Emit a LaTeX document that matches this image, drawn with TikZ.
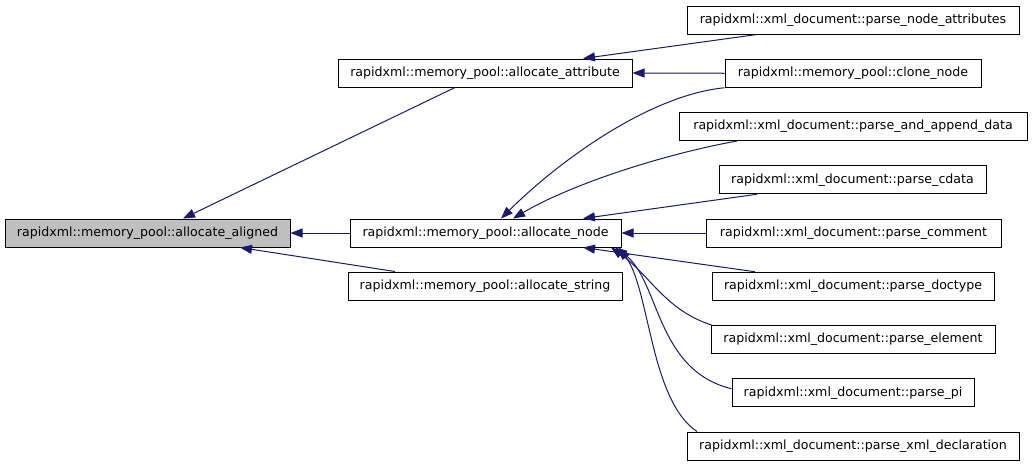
\documentclass[tikz,border=0pt]{standalone}
\usepackage{fontspec}
\setmainfont{DejaVu Sans}
\usetikzlibrary{arrows.meta,calc}
\definecolor{edgeblue}{HTML}{191970}
\definecolor{boxgray}{HTML}{BFBFBF}
\tikzset{
  fn/.style={draw=black, line width=1pt, fill=white, minimum height=28pt, inner sep=0pt,
    font=\fontsize{12.6pt}{14pt}\selectfont, anchor=center},
  cur/.style={fn, fill=boxgray},
  edge/.style={draw=edgeblue, line width=1pt, -{Triangle[length=12pt,width=9pt]}}
}
\begin{document}
\begin{tikzpicture}[x=1pt,y=-1pt]
\useasboundingbox (0,0) rectangle (1032,467);
\node[cur, minimum width=285pt] (al) at (147.5,233) {rapidxml::memory\_pool::allocate\_aligned};
\node[fn, minimum width=294pt] (at) at (485,73) {rapidxml::memory\_pool::allocate\_attribute};
\node[fn, minimum width=271pt] (an) at (485.5,233) {rapidxml::memory\_pool::allocate\_node};
\node[fn, minimum width=274pt] (as) at (485,286) {rapidxml::memory\_pool::allocate\_string};
\node[fn, minimum width=332pt] (pna) at (853,20) {rapidxml::xml\_document::parse\_node\_attributes};
\node[fn, minimum width=256pt] (cl) at (853,73.25) {rapidxml::memory\_pool::clone\_node};
\node[fn, minimum width=348pt] (pad) at (853,126.5) {rapidxml::xml\_document::parse\_and\_append\_data};
\node[fn, minimum width=267pt] (pcd) at (852.5,179.75) {rapidxml::xml\_document::parse\_cdata};
\node[fn, minimum width=295pt] (pco) at (853.5,233) {rapidxml::xml\_document::parse\_comment};
\node[fn, minimum width=282pt] (pdt) at (853,286.25) {rapidxml::xml\_document::parse\_doctype};
\node[fn, minimum width=284pt] (pel) at (853,339.5) {rapidxml::xml\_document::parse\_element};
\node[fn, minimum width=242pt] (ppi) at (853,392.75) {rapidxml::xml\_document::parse\_pi};
\node[fn, minimum width=332pt] (pxd) at (853,446) {rapidxml::xml\_document::parse\_xml\_declaration};
% edges to allocate_aligned
\draw[edge] ([xshift=-30pt]at.south) -- ([xshift=35.5pt]al.north);
\draw[edge] (an.west) -- (al.east);
\draw[edge] ([xshift=-90pt]as.north) -- ([xshift=92.5pt]al.south);
% edges to allocate_attribute
\draw[edge] ([xshift=-96pt]pna.south) -- ([xshift=98pt]at.north);
\draw[edge] (cl.west) -- (at.east);
% edges to allocate_node
\draw[edge] (cl.south west) .. controls (650,95) and (560,160) .. ([xshift=15.5pt]an.north);
\draw[edge] ([xshift=-116pt]pad.south) .. controls (660,155) and (570,185) .. ([xshift=27.5pt]an.north);
\draw[edge] ([xshift=-95.5pt]pcd.south) -- ([xshift=97.5pt]an.north);
\draw[edge] (pco.west) -- (an.east);
\draw[edge] ([xshift=-98pt]pdt.north) -- ([xshift=97.5pt]an.south);
\draw[edge] ([xshift=1pt]pel.north west) .. controls (665,310) and (650,275) .. ([xshift=125.5pt]an.south);
\draw[edge] ([yshift=4pt]ppi.west) .. controls (655,370) and (660,280) .. ([xshift=129.5pt]an.south);
\draw[edge] ([xshift=-156pt]pxd.north) .. controls (650,400) and (650,290) .. ([xshift=133.5pt]an.south);
\end{tikzpicture}
\end{document}
